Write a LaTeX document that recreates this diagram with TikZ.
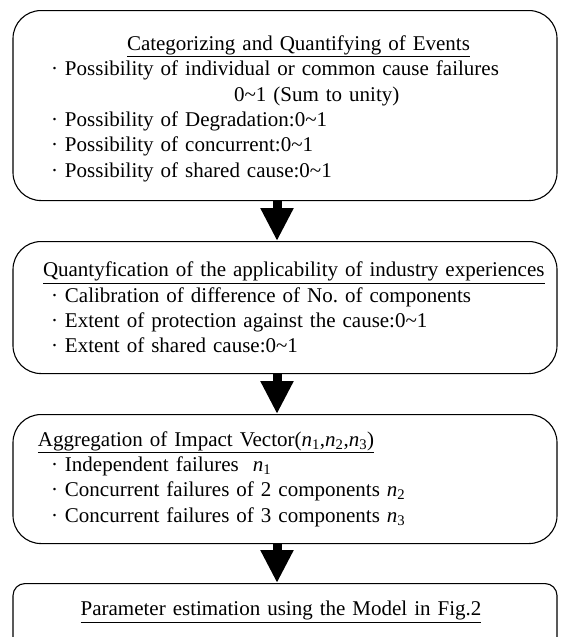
\documentclass[tikz,border=0pt]{standalone}
\usepackage{fontspec}
\setmainfont{Liberation Serif}
\usetikzlibrary{arrows.meta}
\newcommand{\bul}{\makebox[1em]{\textperiodcentered}}
\newcommand{\zto}{0\textasciitilde1}
\newcommand{\nvar}[1]{\textit{n}\textsubscript{#1}}

\begin{document}
\begin{tikzpicture}[x=1pt, y=1pt,
    box/.style={draw, line width=1.1pt, rounded corners=28pt, inner xsep=31pt,
      text width=482pt, align=left, anchor=north,
      font=\fontsize{21}{25.3}\selectfont},
    flow/.style={line width=9pt, -{Triangle[length=33pt, width=31pt]}}]
\useasboundingbox (0,0) rectangle (560,-637);
\clip (0,0) rectangle (560,-637);

\node[box, minimum height=190pt] (events) at (285,-10) {%
  \rule{0pt}{21pt}\rlap{\hspace{83pt}\underline{Categorizing and Quantifying of Events}}\\
  \bul Possibility of individual or common cause failures\\
  \hspace{190pt}\zto{} (Sum to unity)\\
  \bul Possibility of Degradation:\zto\\
  \bul Possibility of concurrent:\zto\\
  \bul Possibility of shared cause:\zto};

\node[box, minimum height=132pt] (applic) at (285,-241) {%
  \rlap{\hspace{-1pt}\underline{Quantyfication of the applicability of industry experiences}}\\
  \bul Calibration of difference of No.\ of components\\
  \bul Extent of protection against the cause:\zto\\
  \bul Extent of shared cause:\zto};

\node[box, minimum height=129pt] (impact) at (285,-414) {%
  \rlap{\hspace{-6pt}\underline{Aggregation of Impact Vector(\nvar{1},\nvar{2},\nvar{3})}}\\
  \bul Independent failures~ \nvar{1}\\
  \bul Concurrent failures of 2 components \nvar{2}\\
  \bul Concurrent failures of 3 components \nvar{3}};

\node[box, rounded corners=12pt, minimum height=70pt, align=center, text depth=20pt]
  (param) at (285,-583) {\hspace{-8pt}\underline{Parameter estimation using the Model in Fig.2}};

% arrows between the steps
\coordinate (ax) at (277,0);
\draw[flow] (events.south -| ax) -- (applic.north -| ax);
\draw[flow] (applic.south -| ax) -- (impact.north -| ax);
\draw[flow] (impact.south -| ax) -- (param.north -| ax);
\end{tikzpicture}
\end{document}
